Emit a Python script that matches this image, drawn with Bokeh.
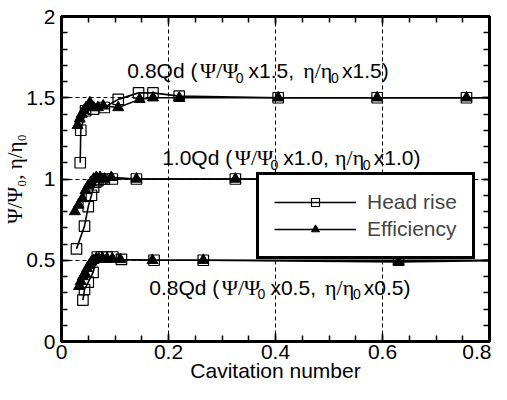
from bokeh.plotting import figure
from bokeh.models import (Range1d, LinearAxis, SingleIntervalTicker, NumeralTickFormatter,
                          CustomJSTickFormatter, Legend, LegendItem, Label)
from bokeh.embed import file_html
from bokeh.resources import INLINE

# ---- data ----
top_x_head = [0.035, 0.036, 0.045, 0.060, 0.080, 0.106, 0.144, 0.171, 0.22, 0.405, 0.59, 0.757, 0.85]
top_y_head = [1.10, 1.30, 1.42, 1.43, 1.44, 1.49, 1.53, 1.53, 1.51, 1.50, 1.50, 1.50, 1.50]
top_x_eff = [0.030, 0.034, 0.038, 0.042, 0.046, 0.053, 0.060, 0.068, 0.078, 0.106, 0.146, 0.171, 0.22, 0.405, 0.59, 0.757, 0.85]
top_y_eff = [1.33, 1.37, 1.40, 1.42, 1.44, 1.47, 1.44, 1.44, 1.45, 1.44, 1.49, 1.50, 1.50, 1.50, 1.50, 1.50, 1.50]

mid_x_head = [0.028, 0.043, 0.050, 0.056, 0.060, 0.064, 0.068, 0.073, 0.080, 0.095, 0.14, 0.325, 0.51, 0.695]
mid_y_head = [0.57, 0.71, 0.83, 0.90, 0.95, 0.98, 0.99, 1.0, 1.0, 1.0, 1.0, 1.0, 1.0, 1.0]
mid_x_eff = [0.025, 0.032, 0.039, 0.045, 0.050, 0.055, 0.060, 0.065, 0.072, 0.080, 0.093, 0.14, 0.325, 0.51, 0.695]
mid_y_eff = [0.80, 0.84, 0.88, 0.93, 0.96, 0.98, 1.0, 1.01, 1.01, 1.0, 1.01, 1.0, 1.0, 1.0, 1.0]

bot_x_head = [0.040, 0.043, 0.050, 0.059, 0.067, 0.075, 0.085, 0.096, 0.112, 0.173, 0.265, 0.63, 0.85]
bot_y_head = [0.255, 0.32, 0.365, 0.425, 0.52, 0.52, 0.52, 0.52, 0.505, 0.50, 0.50, 0.50, 0.50]
bot_x_eff = [0.033, 0.036, 0.040, 0.044, 0.048, 0.052, 0.056, 0.060, 0.065, 0.070, 0.077, 0.085, 0.095, 0.11, 0.17, 0.265, 0.63, 0.85]
bot_y_eff = [0.34, 0.37, 0.40, 0.42, 0.45, 0.47, 0.49, 0.50, 0.51, 0.51, 0.51, 0.51, 0.51, 0.505, 0.50, 0.50, 0.49, 0.50]

x_ticks_interval = 0.2
y_ticks_interval = 0.5
x_label = "Cavitation number"
y_label = "Ψ/Ψ₀, η/η₀"
legend_labels = ["Head rise", "Efficiency"]

# annotation pieces: (text, kind) kind: s=sans, g=greek serif, b=subscript
ann_top = [("0.8Qd (", "s"), ("Ψ/Ψ", "g"), ("0", "b"), ("x1.5,", "s"), ("η/η", "g"), ("0", "b"), ("x1.5)", "s")]
ann_mid = [("1.0Qd (", "s"), ("Ψ/Ψ", "g"), ("0", "b"), ("x1.0,", "s"), ("η/η", "g"), ("0", "b"), ("x1.0)", "s")]
ann_bot = [("0.8Qd (", "s"), ("Ψ/Ψ", "g"), ("0", "b"), ("x0.5,", "s"), ("η/η", "g"), ("0", "b"), ("x0.5)", "s")]

SANS = "Liberation Sans"
SERIF = "Liberation Serif"
FS = "21px"

p = figure(width=491, height=384, output_backend="svg", toolbar_location=None,
           x_range=Range1d(0, 0.8), y_range=Range1d(0, 2),
           min_border_left=60, min_border_right=2, min_border_top=16, min_border_bottom=10,
           background_fill_color="white", border_fill_color="white",
           outline_line_color="black", outline_line_width=3, outline_line_alpha=1.0)

xt = SingleIntervalTicker(interval=x_ticks_interval, num_minor_ticks=4)
yt = SingleIntervalTicker(interval=y_ticks_interval, num_minor_ticks=5)

p.xaxis.ticker = xt
p.yaxis.ticker = yt
p.xaxis.formatter = NumeralTickFormatter(format="0.[0]")
p.yaxis.formatter = NumeralTickFormatter(format="0.[0]")

for ax in (p.xaxis, p.yaxis):
    ax.axis_line_width = 3
    ax.major_tick_in = 8
    ax.major_tick_out = 0
    ax.minor_tick_in = 6
    ax.minor_tick_out = 0
    ax.major_tick_line_width = 1.5
    ax.minor_tick_line_width = 1.5
    ax.major_label_text_font = SANS
    ax.major_label_text_font_size = FS
    ax.major_label_text_color = "black"
    ax.axis_label_text_font_style = "normal"
    ax.axis_label_text_color = "black"
p.xaxis.axis_label = x_label
p.xaxis.axis_label_text_font = SANS
p.xaxis.axis_label_text_font_size = FS
p.xaxis.major_label_standoff = 3
p.xaxis.axis_label_standoff = -3
p.yaxis.axis_label = y_label
p.yaxis.axis_label_text_font = SERIF
p.yaxis.axis_label_text_font_size = FS
p.yaxis.major_label_standoff = 6
p.yaxis.axis_label_standoff = -4

# mirror axes for ticks on top and right (no labels)
blank = CustomJSTickFormatter(code="return ''")
for loc, tk in (("above", xt), ("right", yt)):
    a = LinearAxis(ticker=tk, formatter=blank, axis_line_width=3, major_tick_in=8, major_tick_out=0,
                   minor_tick_in=6, minor_tick_out=0, major_tick_line_width=1.5,
                   minor_tick_line_width=1.5, major_label_text_font_size="1px",
                   major_label_standoff=0)
    p.add_layout(a, loc)

p.xgrid.grid_line_color = "black"
p.ygrid.grid_line_color = "black"
p.xgrid.grid_line_dash = "4 3"
p.ygrid.grid_line_dash = "4 3"
p.xgrid.grid_line_width = 1
p.ygrid.grid_line_width = 1

LW = 1.6
MS = 10.5
groups = [(top_x_head, top_y_head, top_x_eff, top_y_eff),
          (mid_x_head, mid_y_head, mid_x_eff, mid_y_eff),
          (bot_x_head, bot_y_head, bot_x_eff, bot_y_eff)]
leg_r = None
for xh, yh, xe, ye in groups:
    lh = p.line(xh, yh, line_color="black", line_width=LW)
    sh = p.scatter(xh, yh, marker="square", size=MS, fill_color=None, line_color="black", line_width=1.2)
    le = p.line(xe, ye, line_color="black", line_width=LW)
    se = p.scatter(xe, ye, marker="triangle", size=MS + 0.5, fill_color="black", line_color="black")
    if leg_r is None:
        leg_r = (lh, sh, le, se)

# annotations (positions measured in the reference's pixel frame)
X0, XS = 61.7, 538.5   # reference px -> data (x)
Y0, YS = 350.0, 164.5  # reference px -> data (y)
def px2x(px):
    return (px - X0) / XS
def py2y(py):
    return (Y0 - py) / YS

def place(pieces, xs, yc):
    for (txt, kind), xpx in zip(pieces, xs):
        if kind == "s":
            lab = Label(x=px2x(xpx), y=py2y(yc), text=txt, text_font=SANS, text_font_size=FS,
                        text_baseline="middle", text_align="left", text_color="black")
        elif kind == "g":
            lab = Label(x=px2x(xpx), y=py2y(yc), text=txt, text_font=SERIF, text_font_size="22px",
                        text_baseline="middle", text_align="left", text_color="black")
        else:
            lab = Label(x=px2x(xpx), y=py2y(yc + 7), text=txt, text_font=SANS, text_font_size="14px",
                        text_baseline="middle", text_align="left", text_color="black")
        p.add_layout(lab)

place(ann_top, [128, 201, 237, 250, 305, 333, 344], 76)
place(ann_mid, [163, 236, 272, 285, 337, 365, 376], 164)
place(ann_bot, [150, 223, 259, 272, 327, 355, 366], 295)

legend = Legend(items=[LegendItem(label=legend_labels[0], renderers=[leg_r[0], leg_r[1]]),
                       LegendItem(label=legend_labels[1], renderers=[leg_r[2], leg_r[3]])],
                location=(195, 82), orientation="vertical",
                border_line_color="black", border_line_width=3, border_line_alpha=1.0,
                background_fill_color="white", background_fill_alpha=1.0,
                label_text_font=SANS, label_text_font_size=FS,
                glyph_width=82, glyph_height=20, label_height=20, spacing=3, padding=15,
                label_standoff=11, margin=0)
p.add_layout(legend, "center")

open("out.html", "w").write(file_html(p, INLINE))
